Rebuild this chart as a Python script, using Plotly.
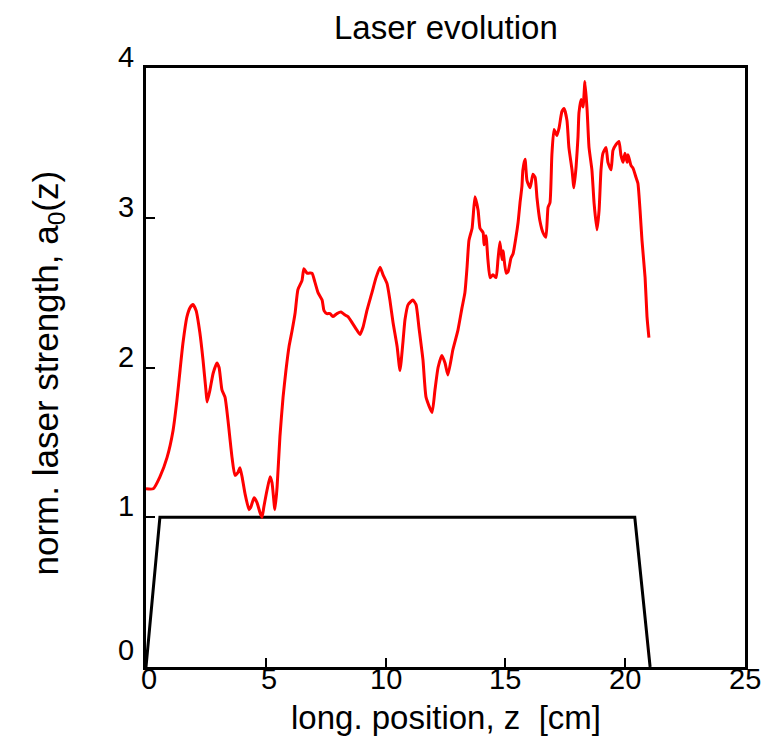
import plotly.graph_objects as go

# Red curve: normalized laser strength a0(z)
z_laser = [0.0, 0.3, 0.58, 0.88, 1.13, 1.29, 1.42, 1.54, 1.71, 1.84, 1.96, 2.09, 2.25, 2.38, 2.50, 2.55,
           2.67, 2.80, 2.96, 3.05, 3.17, 3.30, 3.42, 3.59, 3.71, 3.84, 3.92, 4.01, 4.13, 4.30, 4.38,
           4.51, 4.63, 4.76, 4.84, 4.92, 5.05, 5.18, 5.26, 5.38, 5.47, 5.59, 5.72, 5.84, 5.97, 6.09,
           6.22, 6.34, 6.51, 6.59, 6.72, 6.80, 6.93, 7.05, 7.18, 7.35, 7.43, 7.55, 7.68, 7.80, 7.97,
           8.14, 8.31, 8.43, 8.60, 8.76, 8.93, 9.06, 9.22, 9.43, 9.60, 9.77, 9.89, 10.06, 10.18,
           10.31, 10.48, 10.60, 10.73, 10.81, 10.94, 11.14, 11.27, 11.39, 11.56, 11.69, 11.94,
           12.06, 12.19, 12.35, 12.48, 12.60, 12.81, 13.02, 13.19, 13.31, 13.40, 13.48, 13.61,
           13.65, 13.73, 13.86, 13.94, 14.07, 14.11, 14.19, 14.27, 14.36, 14.48, 14.61, 14.69,
           14.77, 14.86, 14.90, 15.03, 15.11, 15.23, 15.32, 15.44, 15.53, 15.61, 15.69, 15.73,
           15.82, 15.90, 16.03, 16.15, 16.24, 16.32, 16.44, 16.57, 16.69, 16.78, 16.86, 16.94,
           17.03, 17.15, 17.24, 17.36, 17.45, 17.57, 17.65, 17.78, 17.86, 17.95, 18.03, 18.07,
           18.16, 18.24, 18.32, 18.41, 18.49, 18.61, 18.70, 18.82, 18.91, 18.99, 19.07, 19.20,
           19.28, 19.41, 19.49, 19.62, 19.74, 19.82, 19.91, 19.99, 20.08, 20.12, 20.24, 20.33,
           20.45, 20.53, 20.62, 20.70, 20.83, 20.91, 20.99]
a0_laser = [1.19, 1.19, 1.27, 1.40, 1.58, 1.78, 1.98, 2.16, 2.34, 2.40, 2.42, 2.38, 2.23, 2.05, 1.85, 1.77,
            1.85, 1.96, 2.03, 2.00, 1.85, 1.80, 1.65, 1.40, 1.28, 1.30, 1.33, 1.27, 1.16, 1.05, 1.07,
            1.13, 1.10, 1.03, 1.00, 1.07, 1.18, 1.27, 1.23, 1.05, 1.20, 1.54, 1.80, 1.98, 2.14, 2.24,
            2.36, 2.52, 2.58, 2.66, 2.63, 2.63, 2.63, 2.57, 2.50, 2.45, 2.38, 2.36, 2.36, 2.34, 2.36,
            2.37, 2.35, 2.34, 2.30, 2.26, 2.22, 2.27, 2.38, 2.50, 2.60, 2.67, 2.62, 2.56, 2.45,
            2.30, 2.14, 1.98, 2.18, 2.32, 2.42, 2.45, 2.42, 2.27, 2.05, 1.80, 1.70,
            1.85, 2.00, 2.08, 2.03, 1.95, 2.12, 2.25, 2.40, 2.50, 2.67, 2.85, 2.93,
            3.00, 3.14, 3.05, 2.93, 2.90, 2.82, 2.88, 2.72, 2.60, 2.62, 2.60, 2.72,
            2.84, 2.72, 2.78, 2.63, 2.64, 2.73, 2.76, 2.87, 2.97, 3.10, 3.21, 3.32,
            3.39, 3.25, 3.20, 3.29, 3.27, 3.13, 2.98, 2.90, 2.87, 3.07, 3.10, 3.42,
            3.59, 3.55, 3.60, 3.71, 3.73, 3.65, 3.47, 3.32, 3.20, 3.34, 3.54, 3.70,
            3.79, 3.74, 3.91, 3.72, 3.47, 3.32, 3.10, 2.92, 3.05, 3.32, 3.43, 3.47,
            3.37, 3.32, 3.45, 3.49, 3.51, 3.42, 3.37, 3.43, 3.37, 3.42, 3.35, 3.33,
            3.27, 3.23, 3.05, 2.85, 2.60, 2.34, 2.20]

# Black curve: plasma density profile
z_plasma = [0.0, 0.58, 20.40, 21.04]
n_plasma = [0.0, 1.0, 1.0, 0.0]

x_ticks = [0, 5, 10, 15, 20, 25]
y_ticks = [0, 1, 2, 3, 4]

FONT = "Liberation Sans, Arial, sans-serif"
FS_TICK = 29
FS_TITLE = 33

fig = go.Figure()
fig.add_trace(go.Scatter(x=z_plasma, y=n_plasma, mode="lines",
                         line=dict(color="black", width=3), showlegend=False))
fig.add_trace(go.Scatter(x=z_laser, y=a0_laser, mode="lines",
                         line=dict(color="#ff0000", width=3, shape="spline", smoothing=0.5),
                         showlegend=False))

annotations = []
for v in x_ticks:
    annotations.append(dict(x=v, y=0, xref="x", yref="y", text=str(v), showarrow=False,
                            xanchor="center", yanchor="top", yshift=6, xshift=3 if v < 10 else 0,
                            font=dict(family=FONT, size=FS_TICK, color="black")))
for v in y_ticks:
    annotations.append(dict(x=0, y=v, xref="x", yref="y", text=str(v), showarrow=False,
                            xanchor="right", yanchor="middle", xshift=-10,
                            yshift=17 if v == 0 else 11,
                            font=dict(family=FONT, size=FS_TICK, color="black")))

# Axis titles and chart title as annotations for precise placement
annotations.append(dict(x=0.5, y=-0.085, xref="paper", yref="paper",
                        text="long. position, z  [cm]", showarrow=False,
                        xanchor="center", yanchor="middle",
                        font=dict(family=FONT, size=FS_TITLE, color="black")))
annotations.append(dict(x=-0.1636, y=0.49, xref="paper", yref="paper",
                        text="norm. laser strength, a<sub>0</sub>(z)", showarrow=False,
                        textangle=-90, xanchor="center", yanchor="middle",
                        font=dict(family=FONT, size=35, color="black")))
annotations.append(dict(x=0.5, y=1.0668, xref="paper", yref="paper",
                        text="Laser evolution", showarrow=False,
                        xanchor="center", yanchor="middle",
                        font=dict(family=FONT, size=FS_TITLE, color="black")))

axis_common = dict(showgrid=False, zeroline=False, showline=True, linecolor="black", linewidth=3,
                   mirror=True, ticks="inside", ticklen=9, tickwidth=2, tickcolor="black",
                   showticklabels=False)

fig.update_layout(
    width=768, height=739,
    margin=dict(l=146, r=23, t=68, b=72),
    plot_bgcolor="white", paper_bgcolor="white",
    font=dict(family=FONT, size=FS_TICK, color="black"),
    xaxis=dict(range=[0, 25], tickvals=x_ticks, **axis_common),
    yaxis=dict(range=[0, 4], tickvals=y_ticks, **axis_common),
    annotations=annotations,
)

fig.write_html("out.html")
